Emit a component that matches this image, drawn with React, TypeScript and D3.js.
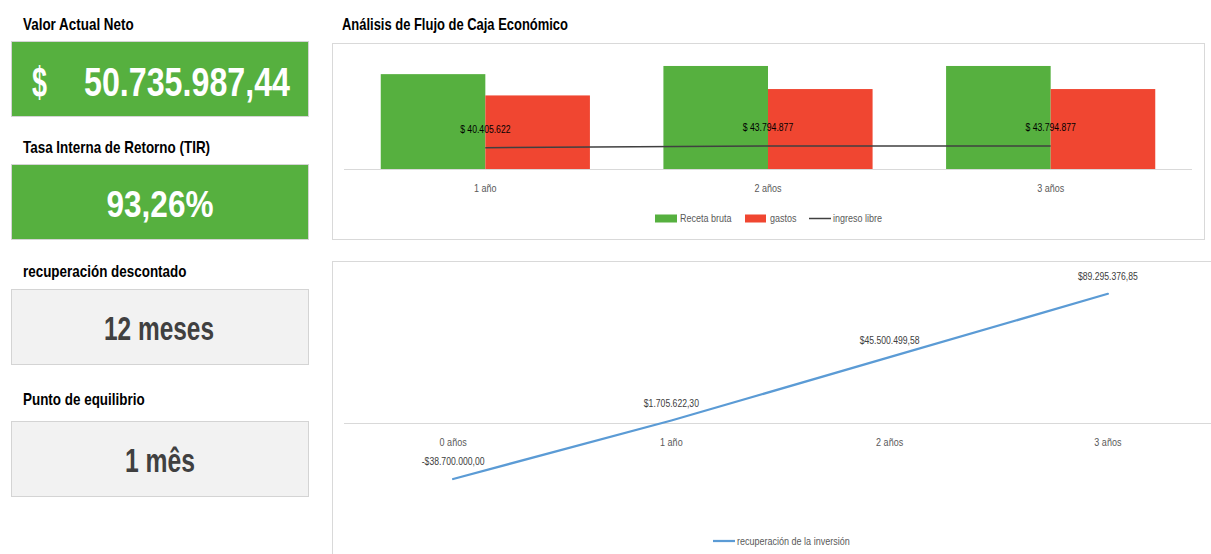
import React from "react";
import * as d3 from "d3";

// Cash-flow categories and series (pesos)
const flowYears = ["1 año", "2 años", "3 años"];
const grossRevenue = [180000000, 195500000, 195500000];
const expenses = [139594378, 151705123, 151705123];
const freeIncome = [40405622, 43794877, 43794877];

// Cumulative recovery of the investment
const recoveryYears = ["0 años", "1 año", "2 años", "3 años"];
const recovery = [-38700000, 1705622.3, 45500499.58, 89295376.85];

// Indicator cards
const cardTitles = ["Valor Actual Neto", "Tasa Interna de Retorno (TIR)", "recuperación descontado", "Punto de equilibrio"];
const npvValue = 50735987.44;
const irrValue = 0.9326;
const paybackText = "12 meses";
const breakEvenText = "1 mês";

const FONT = "'Liberation Sans Narrow', 'Arial Narrow', 'Liberation Sans', sans-serif";
const GREEN = "#56b03f";
const RED = "#f04631";
const BLUE = "#5b9bd5";

const es = d3.formatLocale({
  decimal: ",",
  thousands: ".",
  grouping: [3],
  currency: ["$", ""],
  minus: "-",
});
const fmtInt = es.format(",.0f");
const fmtMoney = es.format("$,.2f");
const fmtPct = es.format(".2%");

// Condensed text: the sans face is narrowed horizontally around its anchor point
function Txt({ x, y, sx = 0.82, children, ...rest }: any) {
  return (
    <text transform={`translate(${x},${y}) scale(${sx},1)`} {...rest}>
      {children}
    </text>
  );
}

export default function App() {
  // Top chart: grouped bars plus free-income line
  const x0 = d3.scaleBand<string>().domain(flowYears).range([344, 1192]).paddingInner(0.26).paddingOuter(0.13);
  const x1 = d3.scaleBand<string>().domain(["r", "g"]).range([0, x0.bandwidth()]);
  const yTop = d3.scaleLinear().domain([0, 200000000]).range([169, 63.6]);
  const topLine = d3
    .line<number>()
    .x((_, i) => (x0(flowYears[i]) as number) + x0.bandwidth() / 2)
    .y((d) => yTop(d));

  // Bottom chart: recovery line
  const xb = d3.scaleBand<string>().domain(recoveryYears).range([344, 1217]);
  const yb = d3.scaleLinear().domain([-60000000, 100000000]).range([509.8, 278.3]);
  const recLine = d3
    .line<number>()
    .x((_, i) => (xb(recoveryYears[i]) as number) + xb.bandwidth() / 2)
    .y((d) => yb(d));

  const cards = [
    { title: cardTitles[0], y: 41, titleY: 30, fill: GREEN },
    { title: cardTitles[1], y: 164, titleY: 153, fill: GREEN },
    { title: cardTitles[2], y: 289, titleY: 277, fill: "#f2f2f2" },
    { title: cardTitles[3], y: 421, titleY: 405, fill: "#f2f2f2" },
  ];

  const npvParts = fmtInt(Math.floor(npvValue)) + "," + fmtMoney(npvValue).split(",")[1];

  return (
    <div style={{ position: "absolute", left: 0, top: 0 }}>
      <svg width={1211} height={554} style={{ display: "block", background: "#fff" }} fontFamily={FONT}>
        {/* indicator cards */}
        {cards.map((c) => (
          <g key={c.title}>
            <Txt x={23} y={c.titleY} sx={0.84} fontSize={16} fontWeight="bold" fill="#000">
              {c.title}
            </Txt>
            <rect x={11.5} y={c.y + 0.5} width={297} height={75} fill={c.fill} stroke="#d4d4d4" />
          </g>
        ))}
        <text x={32} y={97} fontSize={43} fontWeight="bold" fill="#fff" textLength={15} lengthAdjust="spacingAndGlyphs">
          $
        </text>
        <text x={290} y={96} fontSize={40.5} fontWeight="bold" fill="#fff" textAnchor="end" textLength={206} lengthAdjust="spacingAndGlyphs">
          {npvParts}
        </text>
        <text x={160} y={217} fontSize={37.5} fontWeight="bold" fill="#fff" textAnchor="middle" textLength={107} lengthAdjust="spacingAndGlyphs">
          {fmtPct(irrValue)}
        </text>
        <text x={159} y={340} fontSize={33.5} fontWeight="bold" fill="#404040" textAnchor="middle" textLength={110} lengthAdjust="spacingAndGlyphs">
          {paybackText}
        </text>
        <text x={160} y={472} fontSize={33.5} fontWeight="bold" fill="#404040" textAnchor="middle" textLength={70} lengthAdjust="spacingAndGlyphs">
          {breakEvenText}
        </text>

        {/* cash-flow chart */}
        <Txt x={342} y={30} sx={0.81} fontSize={16} fontWeight="bold" fill="#000">
          Análisis de Flujo de Caja Económico
        </Txt>
        <rect x={332.5} y={43.5} width={872} height={196} fill="#fff" stroke="#d9d9d9" />
        {flowYears.map((c, i) => (
          <g key={c}>
            <rect
              x={(x0(c) as number) + (x1("r") as number)}
              y={yTop(grossRevenue[i])}
              width={x1.bandwidth()}
              height={yTop(0) - yTop(grossRevenue[i])}
              fill={GREEN}
            />
            <rect
              x={(x0(c) as number) + (x1("g") as number)}
              y={yTop(expenses[i])}
              width={x1.bandwidth()}
              height={yTop(0) - yTop(expenses[i])}
              fill={RED}
            />
          </g>
        ))}
        <line x1={344} x2={1192} y1={yTop(0) + 0.5} y2={yTop(0) + 0.5} stroke="#d9d9d9" />
        <path d={topLine(freeIncome) as string} fill="none" stroke="#404040" strokeWidth={1.5} />
        {flowYears.map((c, i) => (
          <g key={c}>
            <Txt
              x={(x0(c) as number) + x0.bandwidth() / 2}
              y={yTop(freeIncome[i]) - 14.5}
              sx={0.8}
              fontSize={10.8}
              fill="#000"
              textAnchor="middle"
            >
              {"$ " + fmtInt(freeIncome[i])}
            </Txt>
            <Txt x={(x0(c) as number) + x0.bandwidth() / 2} y={191.5} fontSize={11} fill="#595959" textAnchor="middle">
              {c}
            </Txt>
          </g>
        ))}
        {/* legend */}
        <rect x={655} y={214.5} width={22} height={8} fill={GREEN} />
        <Txt x={680} y={222} fontSize={11} fill="#595959">Receta bruta</Txt>
        <rect x={745} y={214.5} width={21} height={8} fill={RED} />
        <Txt x={770} y={222} fontSize={11} fill="#595959">gastos</Txt>
        <line x1={809} x2={831} y1={218.5} y2={218.5} stroke="#404040" strokeWidth={1.5} />
        <Txt x={833} y={222} fontSize={11} fill="#595959">ingreso libre</Txt>

        {/* recovery chart */}
        <rect x={332.5} y={261.5} width={1000} height={400} fill="#fff" stroke="#d9d9d9" />
        <line x1={344} x2={1217} y1={yb(0) + 0.5} y2={yb(0) + 0.5} stroke="#d9d9d9" />
        {recoveryYears.map((c) => (
          <Txt key={c} x={(xb(c) as number) + xb.bandwidth() / 2} y={446} fontSize={11} fill="#595959" textAnchor="middle">
            {c}
          </Txt>
        ))}
        <path d={recLine(recovery) as string} fill="none" stroke={BLUE} strokeWidth={2.25} strokeLinecap="round" />
        {recoveryYears.map((c, i) => (
          <Txt
            key={c}
            x={(xb(c) as number) + xb.bandwidth() / 2}
            y={yb(recovery[i]) - 13.5}
            sx={0.8}
            fontSize={10.8}
            fill="#404040"
            textAnchor="middle"
          >
            {fmtMoney(recovery[i])}
          </Txt>
        ))}
        <line x1={713} x2={735} y1={541} y2={541} stroke={BLUE} strokeWidth={2.25} />
        <Txt x={737} y={545} fontSize={11} fill="#595959">recuperación de la inversión</Txt>
      </svg>
    </div>
  );
}
